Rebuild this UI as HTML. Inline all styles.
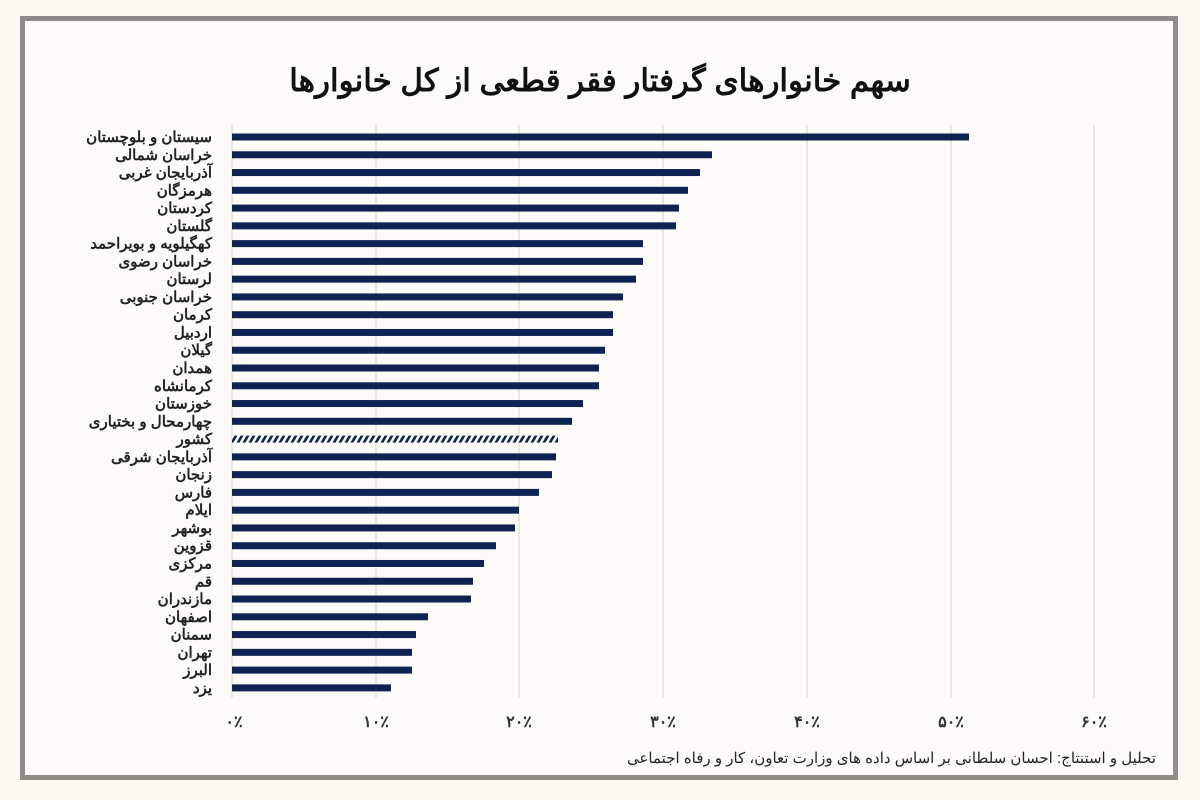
<!DOCTYPE html>
<html><head><meta charset="utf-8"><style>
body{margin:0;background:#fbf9f4;}
svg{display:block}
</style></head><body>
<svg width="1200" height="800" xmlns="http://www.w3.org/2000/svg">
<defs>
<pattern id="h" width="6" height="8" patternUnits="userSpaceOnUse" patternTransform="skewX(-30)">
<rect width="6" height="8" fill="#fbf9f4"/><rect width="3" height="8" fill="#0f2352"/>
</pattern>
</defs>
<rect width="1200" height="800" fill="#fbf9f4"/>
<rect x="22.5" y="18.5" width="1153" height="759" fill="#fdfbf7" stroke="#8e8d88" stroke-width="5"/>
<text x="600" y="91" text-anchor="middle" font-family="'Liberation Sans','Noto Sans CJK SC',sans-serif" font-size="31" font-weight="bold" fill="#111" direction="rtl">سهم خانوارهای گرفتار فقر قطعی از کل خانوارها</text>
<g stroke="#d6d4cf" stroke-width="1">
<line x1="232" y1="125" x2="232" y2="698"/><line x1="376" y1="125" x2="376" y2="698"/><line x1="519" y1="125" x2="519" y2="698"/><line x1="663" y1="125" x2="663" y2="698"/><line x1="807" y1="125" x2="807" y2="698"/><line x1="951" y1="125" x2="951" y2="698"/><line x1="1094" y1="125" x2="1094" y2="698"/>
</g>
<g font-family="'Liberation Sans','Noto Sans CJK SC',sans-serif" font-size="16" font-weight="bold" fill="#333" text-anchor="middle">
<text x="234" y="727">۰٪</text><text x="376" y="727">۱۰٪</text><text x="519" y="727">۲۰٪</text><text x="663" y="727">۳۰٪</text><text x="807" y="727">۴۰٪</text><text x="951" y="727">۵۰٪</text><text x="1094" y="727">۶۰٪</text>
</g>
<g id="bars" fill="#0f2352"></g>
<g id="labels" font-family="'Liberation Sans','Noto Sans CJK SC',sans-serif" font-size="15" font-weight="bold" fill="#222" text-anchor="end" direction="rtl"></g>
<text x="1156" y="763" text-anchor="start" direction="rtl" font-family="'Liberation Sans','Noto Sans CJK SC',sans-serif" font-size="15" fill="#222">تحلیل و استنتاج: احسان سلطانی بر اساس داده های وزارت تعاون، کار و رفاه اجتماعی</text>
<script>
var d=[["سیستان و بلوچستان",969],["خراسان شمالی",712],["آذربایجان غربی",700],["هرمزگان",688],["کردستان",679],["گلستان",676],["کهگیلویه و بویراحمد",643],["خراسان رضوی",643],["لرستان",636],["خراسان جنوبی",623],["کرمان",613],["اردبیل",613],["گیلان",605],["همدان",599],["کرمانشاه",599],["خوزستان",583],["چهارمحال و بختیاری",572],["کشور",558],["آذربایجان شرقی",556],["زنجان",552],["فارس",539],["ایلام",519],["بوشهر",515],["قزوین",496],["مرکزی",484],["قم",473],["مازندران",471],["اصفهان",428],["سمنان",416],["تهران",412],["البرز",412],["یزد",391]];
var ns="http://www.w3.org/2000/svg",b=document.getElementById("bars"),l=document.getElementById("labels");
d.forEach(function(r,i){var y=137+i*17.77;var e=document.createElementNS(ns,"rect");
e.setAttribute("x",232);e.setAttribute("y",y-3.5);e.setAttribute("width",r[1]-232);e.setAttribute("height",7);
if(i==17)e.setAttribute("fill","url(#h)");b.appendChild(e);
var t=document.createElementNS(ns,"text");t.setAttribute("x",212);t.setAttribute("y",y+5);t.setAttribute("text-anchor","start");t.textContent=r[0];l.appendChild(t);});
</script>
</svg>
</body></html>
